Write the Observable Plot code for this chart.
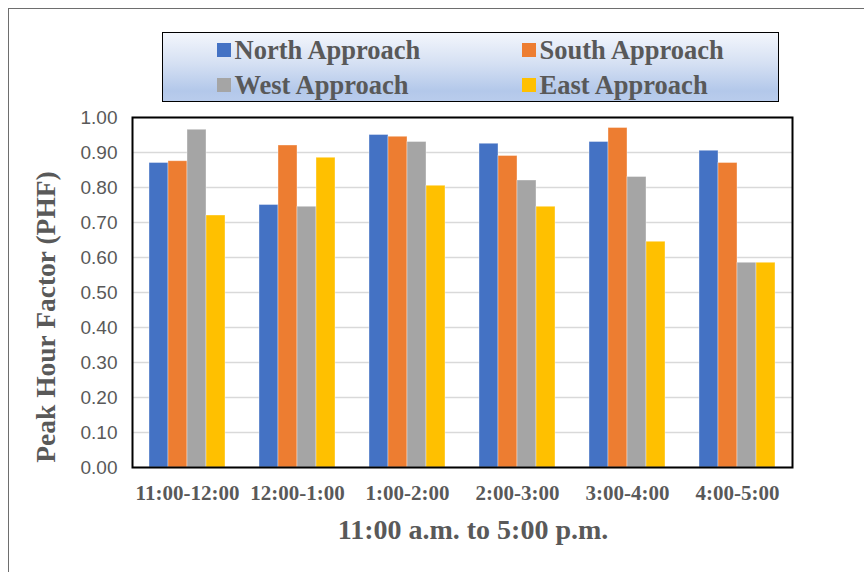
<!DOCTYPE html>
<html>
<head>
<meta charset="utf-8">
<script src="https://cdn.jsdelivr.net/npm/d3@7"></script>
<script src="https://cdn.jsdelivr.net/npm/@observablehq/plot@0.6"></script>
<style>
  body { margin: 0; background: #fff; }
  #wrap { position: relative; width: 864px; height: 572px; overflow: hidden; background: #fff; }
  #outer { position: absolute; left: 8px; top: 8px; width: 900px; height: 600px;
           border-top: 1px solid #6e6e6e; border-left: 1px solid #6e6e6e; }
  #chart { position: absolute; left: 0; top: 0; }
  #legend { position: absolute; left: 162px; top: 32px; width: 615px; height: 68px;
            border: 1.5px solid #000;
            background: linear-gradient(#f3f6fc 0%, #d5e0f3 45%, #b3c8ea 85%, #b9ccec 100%); }
  .item { position: absolute; height: 30px; display: flex; align-items: center;
          font: bold 26.5px "Liberation Serif", serif; color: #595959; line-height: 30px; white-space: nowrap; }
  .sw { width: 14px; height: 14px; margin-right: 4px; }
  .title { position: absolute; font: bold 28px "Liberation Serif", serif; color: #595959; white-space: nowrap; }
</style>
</head>
<body>
<div id="wrap">
  <div id="outer"></div>
  <div id="chart"></div>
  <div id="legend"></div>
  <div class="title" id="ytitle"></div>
  <div class="title" id="xtitle"></div>
</div>
<script>
// ---- data ----
const periods = ["11:00-12:00", "12:00-1:00", "1:00-2:00", "2:00-3:00", "3:00-4:00", "4:00-5:00"];
const seriesNames = ["North Approach", "South Approach", "West Approach", "East Approach"];
const seriesColors = ["#4472C4", "#ED7D31", "#A5A5A5", "#FFC000"];
const north = [0.87, 0.75, 0.95, 0.925, 0.93, 0.905];
const south = [0.875, 0.92, 0.945, 0.89, 0.97, 0.87];
const west  = [0.965, 0.745, 0.93, 0.82, 0.83, 0.585];
const east  = [0.72, 0.885, 0.805, 0.745, 0.645, 0.585];
const yTicks = [0, 0.1, 0.2, 0.3, 0.4, 0.5, 0.6, 0.7, 0.8, 0.9, 1.0];
const yTitle = "Peak Hour Factor (PHF)";
const xTitle = "11:00 a.m. to 5:00 p.m.";

const valuesBySeries = [north, south, west, east];
const table = [];
periods.forEach((p, i) => {
  seriesNames.forEach((s, j) => table.push({period: p, series: s, value: valuesBySeries[j][i]}));
});

const chart = Plot.plot({
  width: 864,
  height: 572,
  marginTop: 117,
  marginBottom: 105,
  marginLeft: 131,
  marginRight: 71,
  style: {background: "transparent", fontFamily: "Liberation Sans, sans-serif", color: "#595959"},
  fx: {domain: periods, padding: 0, label: null, axis: null},
  x: {domain: seriesNames, paddingInner: 0, paddingOuter: 0.755, axis: null},
  y: {domain: [0, 1], axis: null},
  color: {domain: seriesNames, range: seriesColors},
  marks: [
    Plot.gridY(yTicks, {stroke: "#d9d9d9", strokeOpacity: 1, strokeWidth: 1.5}),
    Plot.barY(table, {fx: "period", x: "series", y: "value", fill: "series",
                      stroke: "white", strokeWidth: 0.8, strokeOpacity: 0.45}),
    Plot.frame({facet: "super", stroke: "#000", strokeWidth: 2}),
    Plot.axisY(yTicks, {tickSize: 0, tickPadding: 15, tickFormat: d => d.toFixed(2),
                        fontSize: 19, fill: "#595959", label: null}),
    Plot.axisFx({anchor: "bottom", tickSize: 0, tickPadding: 18, fontSize: 21,
                 fontFamily: "Liberation Serif, serif", fontWeight: "bold", fill: "#595959", label: null})
  ]
});
document.getElementById("chart").appendChild(chart);

// ---- legend ----
const legend = document.getElementById("legend");
const legendPos = [[217, 35], [522, 35], [217, 70], [522, 70]];
seriesNames.forEach((s, i) => {
  const it = document.createElement("div");
  it.className = "item";
  it.style.left = (legendPos[i][0] - 163.5) + "px";
  it.style.top = (legendPos[i][1] - 33.5) + "px";
  const sw = document.createElement("span");
  sw.className = "sw";
  sw.style.background = seriesColors[i];
  const tx = document.createElement("span");
  tx.textContent = s;
  it.appendChild(sw);
  it.appendChild(tx);
  legend.appendChild(it);
});

// ---- axis titles ----
const yt = document.getElementById("ytitle");
yt.textContent = yTitle;
yt.style.fontSize = "27.5px";
yt.style.left = "46px";
yt.style.top = "317px";
yt.style.transform = "translate(-50%, -50%) rotate(-90deg)";
const xt = document.getElementById("xtitle");
xt.textContent = xTitle;
xt.style.left = "473px";
xt.style.top = "530px";
xt.style.transform = "translate(-50%, -50%)";
</script>
</body>
</html>
